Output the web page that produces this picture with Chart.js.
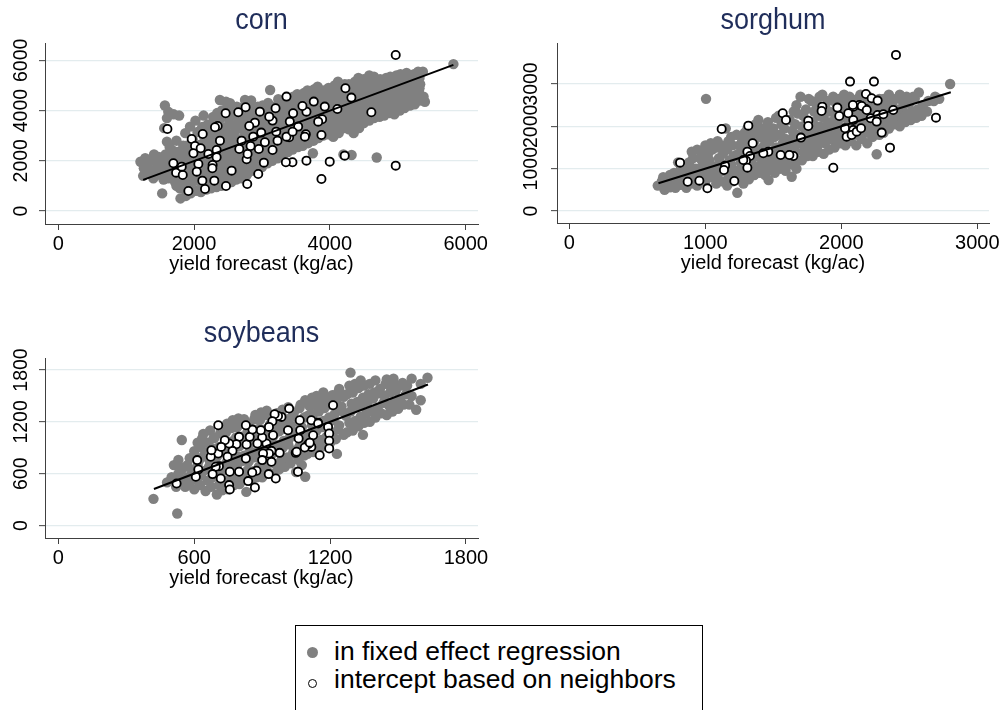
<!DOCTYPE html>
<html>
<head>
<meta charset="utf-8">
<title>yield forecast</title>
<script src="https://cdn.jsdelivr.net/npm/chart.js@4.4.0/dist/chart.umd.min.js"></script>
<style>
body{margin:0;background:#fff;width:1003px;height:710px;overflow:hidden;position:relative;font-family:"Liberation Sans",Arial,sans-serif;}
canvas{position:absolute;}
#legend{position:absolute;left:295px;top:625px;width:408px;height:100px;border:1px solid #000;box-sizing:border-box;}
.lg{position:absolute;left:38px;font-size:26.5px;line-height:30px;color:#000;white-space:nowrap;}
.dot{position:absolute;border-radius:50%;box-sizing:border-box;}
</style>
</head>
<body>
<canvas id="cornChart" width="500" height="290" style="left:0px;top:0px"></canvas>
<canvas id="sorghumChart" width="503" height="290" style="left:500px;top:0px"></canvas>
<canvas id="soyChart" width="500" height="280" style="left:0px;top:320px"></canvas>
<div id="legend">
	<span class="dot" style="left:11px;top:21px;width:11px;height:11px;background:#808080"></span>
	<div class="lg" style="top:10px">in fixed effect regression</div>
	<span class="dot" style="left:11.5px;top:52.5px;width:9.5px;height:9.5px;background:#fff;border:1.7px solid #000"></span>
	<div class="lg" style="top:38px">intercept based on neighbors</div>
</div>
<script>
//x축 제목
var xTitle = 'yield forecast (kg/ac)';

//corn ===============================================
var cornXTicks = [0, 2000, 4000, 6000];
var cornYTicks = [0, 2000, 4000, 6000];
var cornFit = [[1250, 1240], [5820, 5820]];
var cornFixed = [
[1210,1960],[1250,1400],[1260,1700],[1280,2100],[1320,1850],
[1400,1300],[1390,1600],[1420,2000],[1410,2250],[1460,1750],
[1530,700],[1550,1250],[1560,1550],[1540,1800],[1570,2050],[1580,2250],[1560,3300],[1570,4200],[1600,2760],[1620,3950],
[1650,1400],[1680,1750],[1660,2000],[1690,2400],[1700,3850],[1720,1150],
[1800,500],[1790,900],[1820,1200],[1810,1600],[1830,1900],[1800,2200],[1840,2600],[1780,3800],
[1950,700],[1940,1050],[1960,1400],[1970,1750],[1930,2050],[1950,2400],[1980,2850],[1940,3360],
[2100,750],[2120,1000],[2080,1300],[2110,1650],[2130,2000],[2090,2300],[2100,2650],[2140,3000],[2120,3350],[2140,3800],
[2250,900],[2270,1250],[2240,1550],[2260,1900],[2280,2200],[2230,2500],[2270,2850],[2250,3200],[2290,3550],[2280,3750],
[2400,1000],[2380,1350],[2420,1700],[2410,2000],[2390,2350],[2430,2650],[2400,3000],[2420,3300],[2380,3650],[2410,4000],[2380,4420],
[2550,1150],[2540,1500],[2570,1800],[2530,2150],[2560,2450],[2550,2800],[2580,3100],[2540,3450],[2560,3800],[2530,4150],[2530,4290],
[2700,1300],[2690,1650],[2720,2000],[2710,2300],[2680,2650],[2730,2950],[2700,3300],[2720,3600],[2690,3900],[2750,4200],[2750,4420],
[2850,1600],[2870,1900],[2840,2250],[2860,2550],[2880,2850],[2830,3150],[2850,3500],[2870,3750],[2860,4100],[2840,4400],
[3000,1750],[3020,2050],[2990,2400],[3010,2700],[3030,3000],[2980,3300],[3000,3600],[3020,3900],[3010,4200],
[3150,2000],[3130,2300],[3160,2600],[3170,2900],[3140,3200],[3150,3500],[3180,3800],[3150,4100],[3120,4820],
[3300,2250],[3310,2500],[3290,2800],[3320,3100],[3300,3400],[3280,3700],[3330,4000],[3310,4350],
[3450,2450],[3470,2700],[3440,3000],[3460,3300],[3430,3600],[3480,3900],[3450,4250],[3460,4550],
[3600,2600],[3620,2900],[3580,3200],[3610,3500],[3590,3800],[3630,4100],[3600,4400],[3620,4700],
[3750,2300],[3760,2800],[3740,3100],[3770,3400],[3730,3700],[3760,4000],[3780,4300],[3740,4600],[3770,4850],
[3900,3000],[3920,3300],[3880,3600],[3910,3900],[3890,4200],[3930,4500],[3900,4800],
[4050,2950],[4070,3200],[4030,3500],[4060,3800],[4040,4100],[4080,4400],[4050,4700],[4070,5000],
[4200,2250],[4220,3300],[4180,3600],[4210,3900],[4190,4200],[4230,4500],[4200,4800],[4220,5050],
[4350,3100],[4370,3450],[4330,3750],[4360,4050],[4340,4350],[4380,4650],[4350,4950],[4370,5150],[4320,2230],
[4500,3500],[4520,3800],[4480,4100],[4510,4400],[4490,4700],[4530,5000],[4500,5250],
[4650,3700],[4670,3950],[4630,4250],[4660,4550],[4640,4850],[4680,5150],[4650,5350],[4690,2130],
[4800,3800],[4820,4100],[4780,4400],[4810,4700],[4790,5000],[4830,5300],
[4950,3850],[4970,4200],[4930,4500],[4960,4800],[4940,5100],[4980,5400],
[5100,4100],[5120,4400],[5080,4700],[5110,5000],[5090,5300],[5130,5500],
[5250,4250],[5270,4600],[5230,4900],[5260,5200],[5240,5450],
[5400,4350],[5380,4550],[5320,4890],[5370,5550],
[5820,5850],
[1330,1550],[1330,2000],[1480,1450],[1480,1900],[1480,2150],
[1620,1300],[1620,1650],[1620,1900],[1620,2150],[1640,2550],[1600,3700],
[1740,1000],[1750,1500],[1740,1800],[1750,2100],[1760,2350],[1740,2800],
[1880,600],[1870,850],[1880,1100],[1890,1550],[1870,1900],[1880,2250],[1890,2600],[1870,3100],
[2030,800],[2020,1200],[2040,1550],[2030,1900],[2010,2200],[2040,2550],[2050,3150],[2020,3600],
[2180,850],[2170,1150],[2190,1450],[2180,1800],[2200,2100],[2170,2400],[2190,2750],[2180,3100],[2200,3450],
[2330,950],[2320,1300],[2340,1600],[2330,1950],[2320,2300],[2350,2600],[2330,2900],[2340,3250],[2320,3600],[2340,3900],
[2480,1100],[2470,1400],[2490,1750],[2470,2050],[2500,2350],[2480,2700],[2490,3050],[2470,3350],[2500,3700],[2480,4050],[2470,4350],
[2620,1250],[2630,1550],[2610,1900],[2640,2250],[2620,2550],[2630,2850],[2610,3200],[2640,3500],[2620,3850],[2630,4150],
[2780,1450],[2770,1800],[2790,2100],[2780,2400],[2770,2750],[2790,3050],[2780,3400],[2770,3700],[2790,4000],[2780,4300],
[2930,1700],[2920,2000],[2940,2300],[2930,2600],[2920,2950],[2940,3250],[2930,3550],[2920,3850],[2940,4150],
[3080,1900],[3070,2200],[3090,2500],[3080,2800],[3070,3100],[3090,3400],[3080,3700],[3070,4000],[3090,4300],
[3230,2100],[3220,2400],[3240,2700],[3230,3000],[3220,3300],[3240,3600],[3230,3900],[3220,4200],[3240,4450],
[3380,2350],[3370,2650],[3390,2950],[3380,3250],[3370,3550],[3390,3850],[3380,4150],[3370,4450],
[3530,2550],[3520,2800],[3540,3100],[3530,3400],[3520,3700],[3540,4000],[3530,4350],[3520,4650],
[3680,2700],[3670,3000],[3690,3300],[3680,3600],[3670,3900],[3690,4200],[3680,4500],[3670,4800],
[3830,2900],[3820,3200],[3840,3500],[3830,3800],[3820,4100],[3840,4400],[3830,4700],[3820,4950],
[3980,3050],[3970,3400],[3990,3700],[3980,4000],[3970,4300],[3990,4600],[3980,4900],
[4130,3100],[4120,3400],[4140,3700],[4130,4000],[4120,4300],[4140,4600],[4130,4900],[4120,5150],
[4280,3250],[4270,3550],[4290,3850],[4280,4150],[4270,4450],[4290,4750],[4280,5050],
[4430,3300],[4420,3650],[4440,3950],[4430,4250],[4420,4550],[4440,4850],[4430,5150],[4420,5300],
[4580,3600],[4570,3950],[4590,4250],[4580,4550],[4570,4850],[4590,5150],[4580,5400],
[4730,3750],[4720,4050],[4740,4350],[4730,4650],[4720,4950],[4740,5250],
[4880,3900],[4870,4150],[4890,4450],[4880,4750],[4870,5050],[4890,5350],
[5030,4000],[5020,4300],[5040,4600],[5030,4900],[5020,5200],[5040,5450],
[5180,4200],[5170,4500],[5190,4800],[5180,5100],[5170,5400],
[5320,4400],[5310,4750],[5330,5050],[5320,5300],[5300,5550]
];
var cornNeighbor = [
[4970,6215],[4970,1806],[4229,4887],[4317,4515],[4611,3931],[4219,2204],[3998,1965],[3876,1275],[3876,3028],[3886,3652],
[3925,4157],[4111,4064],[3763,4356],[3655,3957],[3596,4183],[3459,3891],[3361,4555],[3646,3054],[3655,2005],[3449,1939],
[3352,1939],[3400,2935],[3410,3559],[3200,4090],[3156,3599],[3107,3758],[2969,3957],[2896,3519],[2813,3386],[2759,4130],
[2651,3931],[2465,3891],[2347,3386],[2308,3333],[2381,2802],[2127,3068],[1965,2868],[2014,2590],[1990,2297],[2097,2497],
[2210,2271],[2332,2430],[2332,2138],[2273,1833],[2269,1700],[2063,1873],[2039,1567],[2122,1208],[2161,877],[1916,797],
[2298,1208],[2470,996],[2553,1607],[2783,1076],[2945,1474],[3028,1926],[2774,2058],[2788,2271],[2666,2470],[2832,2590],
[2954,2470],[3043,2736],[2871,2961],[2700,2802],[2989,3121],[3210,3160],[3156,2430],[3229,2802],[1695,1899],[1735,1527],
[1833,1434],[1818,1766],[1607,3267],[3533,3360],[3361,2961],[3828,3558],[3632,2960],[3451,3159]
];

//sorghum ============================================
var sorghumXTicks = [0, 1000, 2000, 3000];
var sorghumYTicks = [0, 1000, 2000, 3000];
var sorghumFit = [[655, 655], [2805, 2805]];
var sorghumFixed = [
[650,600],[700,500],[710,650],[690,800],[740,560],
[780,550],[790,700],[770,900],[800,1150],[820,620],
[860,550],[870,750],[850,950],[880,1150],[900,650],
[940,600],[950,800],[930,1000],[960,1250],[940,1450],
[1000,700],[1010,900],[990,1100],[1020,1350],[1000,1550],[1005,2650],
[1080,650],[1090,850],[1070,1050],[1100,1250],[1080,1500],[1090,1650],
[1160,600],[1170,800],[1150,1000],[1180,1200],[1160,1450],[1170,1650],[1150,1950],
[1235,430],[1250,750],[1230,950],[1260,1150],[1240,1350],[1250,1550],[1230,1800],
[1320,750],[1330,950],[1310,1150],[1340,1350],[1320,1550],[1330,1750],[1310,1950],
[1400,900],[1410,1100],[1390,1300],[1420,1500],[1400,1750],[1410,1950],[1390,2150],
[1465,730],[1480,1000],[1460,1200],[1490,1400],[1470,1650],[1480,1850],[1460,2100],
[1550,1000],[1560,1200],[1540,1400],[1570,1600],[1550,1800],[1560,2050],[1540,2250],
[1635,810],[1640,1100],[1620,1300],[1650,1500],[1630,1700],[1640,1900],[1620,2150],[1650,2350],
[1710,1200],[1720,1400],[1700,1600],[1730,1800],[1710,2000],[1720,2250],[1700,2700],
[1790,1300],[1800,1500],[1780,1700],[1810,1900],[1790,2100],[1800,2350],[1780,2600],
[1870,1350],[1880,1600],[1860,1800],[1890,2000],[1870,2200],[1880,2450],[1860,2750],
[1950,1500],[1960,1700],[1940,1900],[1970,2100],[1950,2300],[1960,2550],[1940,2700],
[2030,1550],[2040,1750],[2020,1950],[2050,2150],[2030,2350],[2040,2550],[2020,2750],
[2110,1550],[2120,1800],[2100,2000],[2130,2200],[2110,2400],[2120,2650],
[2190,1600],[2200,1850],[2180,2050],[2210,2250],[2190,2450],[2200,2700],
[2260,1340],[2280,1800],[2260,2000],[2290,2200],[2270,2400],[2280,2650],
[2350,1950],[2360,2150],[2340,2350],[2370,2550],[2350,2750],
[2430,2000],[2440,2200],[2420,2400],[2450,2600],[2430,2750],
[2510,2150],[2520,2350],[2500,2550],[2530,2700],
[2570,2800],[2590,2250],[2600,2500],
[2680,2600],[2690,2700],
[2800,3000],
[680,700],[730,750],[760,650],[740,850],[820,800],[820,1000],[830,680],[900,850],[890,1050],[910,1250],[900,1400],
[970,700],[970,900],[980,1150],[970,1400],[1040,800],[1050,1000],[1030,1200],[1050,1450],[1040,1600],
[1120,700],[1130,950],[1110,1150],[1130,1350],[1120,1550],[1200,700],[1200,900],[1190,1100],[1210,1300],[1200,1550],[1190,1750],
[1280,650],[1280,850],[1270,1050],[1290,1250],[1280,1450],[1270,1650],[1290,1850],
[1360,850],[1360,1050],[1350,1250],[1370,1450],[1360,1650],[1350,1850],[1370,2050],
[1440,850],[1440,1050],[1430,1250],[1450,1450],[1440,1650],[1430,1850],[1450,2000],
[1510,900],[1520,1100],[1500,1300],[1520,1500],[1510,1750],[1500,1950],[1520,2200],
[1590,950],[1600,1100],[1580,1300],[1600,1500],[1590,1700],[1580,1950],[1600,2150],
[1670,1000],[1680,1200],[1660,1400],[1680,1600],[1670,1800],[1660,2050],[1680,2300],[1670,2500],
[1750,1300],[1760,1500],[1740,1700],[1760,1900],[1750,2100],[1740,2400],[1760,2650],
[1830,1400],[1840,1600],[1820,1800],[1840,2000],[1830,2250],[1820,2500],[1840,2700],
[1910,1450],[1920,1700],[1900,1900],[1920,2100],[1910,2350],[1900,2600],
[1990,1600],[2000,1800],[1980,2000],[2000,2200],[1990,2450],[1980,2650],
[2070,1650],[2080,1900],[2060,2100],[2080,2300],[2070,2500],[2060,2700],
[2150,1700],[2160,1900],[2140,2100],[2160,2300],[2150,2550],[2140,2750],
[2230,1750],[2240,1950],[2220,2150],[2240,2350],[2230,2550],
[2310,1850],[2320,2050],[2300,2250],[2320,2450],[2310,2650],
[2390,2050],[2400,2250],[2380,2450],[2400,2650],
[2470,2100],[2480,2300],[2460,2500],[2480,2700],
[2550,2200],[2560,2400],[2540,2650],
[2630,2350],[2640,2600],[2720,2650]
];
var sorghumNeighbor = [
[2402,3688],[2064,3057],[2240,3057],[2181,2766],[2223,2663],[2267,2608],[2181,2411],[2132,2506],[2088,2466],[1971,2443],
[1860,2466],[1855,2364],[1985,2246],[2051,2309],[2088,2151],[2027,1954],[2088,1915],[2039,1757],[2076,1797],[2113,1875],
[2145,1954],[2216,2191],[2267,2269],[2309,2285],[2382,2388],[2260,2112],[2297,1852],[2358,1497],[2696,2206],[1941,1024],
[1757,2135],[1757,2009],[1703,1734],[1569,2309],[1593,2151],[1647,1300],[1618,1324],[1554,1324],[1463,1403],[1426,1363],
[1348,1600],[1316,2017],[1309,1403],[1328,1300],[1299,1190],[1309,1024],[1213,709],[1145,1072],[1120,1938],[1015,536],
[956,717],[870,693],[814,1143],[1137,969],[1279,1206],[2150,2482],[2085,2506],[2187,2388]
];

//soybeans ===========================================
var soyXTicks = [0, 600, 1200, 1800];
var soyYTicks = [0, 600, 1200, 1800];
var soyFit = [[422, 424], [1632, 1633]];
var soyFixed = [
[420,310],[480,500],[525,140],
[520,450],[530,600],[510,700],[545,990],
[560,450],[570,560],[550,670],[580,780],
[600,420],[610,530],[590,640],[620,750],[600,860],[615,960],
[650,400],[660,520],[640,630],[670,740],[650,850],[660,960],[640,1060],
[700,360],[710,470],[690,580],[720,690],[700,800],[710,910],[690,1020],[720,1130],
[750,420],[760,530],[740,640],[770,750],[750,860],[760,970],[740,1080],[770,1220],
[800,480],[810,590],[790,700],[820,810],[800,920],[810,1030],[790,1140],[820,1230],
[830,390],[850,520],[860,630],[840,740],[870,850],[850,960],[860,1070],[840,1180],[870,1280],
[900,560],[910,670],[890,780],[920,890],[900,1000],[910,1110],[890,1220],[920,1330],
[950,600],[960,710],[940,820],[970,930],[950,1040],[960,1150],[940,1260],
[1000,680],[1010,790],[990,900],[1020,1010],[1000,1120],[1010,1230],[990,1340],
[1050,620],[1060,760],[1040,870],[1070,980],[1050,1090],[1060,1200],[1040,1310],[1070,1400],
[1090,565],[1100,830],[1110,940],[1090,1050],[1120,1160],[1100,1270],[1110,1380],[1090,1450],
[1150,880],[1160,990],[1140,1100],[1170,1210],[1150,1320],[1160,1430],[1140,1500],
[1200,960],[1210,1070],[1190,1180],[1220,1290],[1200,1400],[1210,1510],
[1230,830],[1260,1050],[1240,1160],[1270,1270],[1250,1380],[1260,1490],[1240,1580],
[1300,1100],[1310,1210],[1290,1320],[1320,1430],[1300,1540],[1310,1640],[1290,1770],
[1345,1050],[1350,1190],[1360,1300],[1340,1410],[1370,1520],[1350,1620],
[1400,1250],[1410,1360],[1390,1470],[1420,1580],[1400,1680],
[1450,1280],[1460,1390],[1440,1500],[1470,1600],[1450,1690],
[1500,1350],[1510,1450],[1490,1560],[1520,1650],
[1550,1400],[1560,1500],[1540,1620],[1560,1700],
[1580,1340],
[1630,1710],
[500,560],[540,520],[545,650],[530,760],[580,500],[590,590],[570,700],[600,810],
[625,470],[630,580],[615,690],[640,800],[625,910],[635,1010],
[675,450],[680,560],[665,680],[690,790],[675,900],[685,1010],[670,1100],
[725,410],[735,520],[715,630],[745,740],[725,850],[735,960],[715,1070],[745,1180],
[775,470],[785,580],[765,690],[795,800],[775,910],[785,1020],[765,1130],[795,1240],
[825,530],[835,640],[815,750],[845,860],[825,970],[835,1080],[815,1190],
[875,560],[885,680],[865,790],[895,900],[875,1010],[885,1120],[865,1230],[895,1310],
[925,620],[935,730],[915,840],[945,950],[925,1060],[935,1170],[915,1280],
[975,650],[985,760],[965,870],[995,980],[975,1090],[985,1200],[965,1300],
[1025,720],[1035,830],[1015,940],[1045,1050],[1025,1160],[1035,1270],[1015,1370],
[1075,700],[1085,810],[1065,920],[1095,1030],[1075,1140],[1085,1250],[1065,1360],[1095,1430],
[1125,850],[1135,960],[1115,1070],[1145,1180],[1125,1290],[1135,1400],[1120,1480],
[1175,920],[1185,1030],[1165,1140],[1195,1250],[1175,1360],[1185,1470],[1170,1540],
[1225,1000],[1235,1110],[1215,1220],[1245,1330],[1225,1440],[1235,1540],
[1275,1080],[1285,1190],[1265,1300],[1295,1410],[1275,1520],[1285,1620],
[1325,1150],[1335,1260],[1315,1370],[1345,1480],[1325,1590],[1335,1680],
[1375,1200],[1385,1320],[1365,1430],[1395,1540],[1375,1640],
[1425,1300],[1435,1420],[1415,1530],[1445,1640],
[1475,1320],[1485,1430],[1465,1540],[1495,1620],[1480,1700],
[1525,1400],[1535,1520],[1515,1620],[1600,1640],[1600,1450]
];
var soyNeighbor = [
[1213,1392],[1191,1142],[1196,1065],[1196,981],[1196,892],[1154,815],[1125,1046],[1117,911],[1103,942],[1088,904],
[1146,1192],[1117,1219],[1066,1219],[1068,1104],[1061,1008],[1048,842],[1058,623],[1019,1354],[1014,1104],[985,1258],
[970,1269],[955,1288],[945,1208],[930,1142],[948,1046],[977,842],[941,865],[919,950],[930,835],[904,835],
[900,1019],[894,1104],[960,546],[929,596],[941,738],[900,758],[875,635],[868,442],[838,515],[856,615],
[828,777],[831,938],[845,1027],[857,1111],[828,1162],[798,1027],[786,942],[769,865],[747,796],[754,950],
[735,988],[757,623],[754,469],[757,419],[717,546],[709,688],[706,835],[695,681],[681,596],[673,796],
[676,873],[706,1162],[719,911],[613,758],[618,650],[607,565],[522,488],[879,950],[798,623],[1052,855],
[1110,960],[1147,1182]
];

function toPoints(list){
	return list.map(function(p){ return {x: p[0], y: p[1]}; });
}

//패널 글자 (제목, 눈금, 축제목)
function panelText(p){
	return {
		id: 'panelText',
		afterDraw: function(chart){
			var ctx = chart.ctx, ca = chart.chartArea;
			var xs = chart.scales.x, ys = chart.scales.y;
			var cx = (ca.left + ca.right) / 2;
			ctx.save();
			ctx.fillStyle = '#000';
			ctx.textAlign = 'center';
			ctx.textBaseline = 'middle';
			ctx.font = '20px "Liberation Sans", Arial, sans-serif';
			p.xTicks.forEach(function(v){
				ctx.fillText(String(v), xs.getPixelForValue(v), ca.bottom + 20.7);
			});
			ctx.fillText(xTitle, cx, ca.bottom + 40.5);
			ctx.font = '19.5px "Liberation Sans", Arial, sans-serif';
			p.yTicks.forEach(function(v){
				ctx.save();
				ctx.translate(p.yLabelX, ys.getPixelForValue(v));
				ctx.rotate(-Math.PI / 2);
				ctx.fillText(String(v), 0, 0);
				ctx.restore();
			});
			ctx.fillStyle = '#1f2d5a';
			ctx.font = '27px "Liberation Sans", Arial, sans-serif';
			ctx.translate(cx, p.titleY);
			ctx.scale(1, 1.1);
			ctx.fillText(p.title, 0, 0);
			ctx.restore();
		}
	};
}

function drawPanel(id, p){
	var axisColor = '#404040';
	new Chart(document.getElementById(id), {
		type: 'scatter',
		data: {
			datasets: [{
				type: 'line',
				data: toPoints(p.fit),
				showLine: true,
				borderColor: '#000',
				borderWidth: 2,
				pointRadius: 0,
				order: 0
			}, {
				data: toPoints(p.neighbor),
				pointRadius: 4.1,
				pointBackgroundColor: '#fff',
				pointBorderColor: '#000',
				pointBorderWidth: 1.8,
				order: 1
			}, {
				data: toPoints(p.fixed),
				pointRadius: 5.2,
				pointBackgroundColor: '#808080',
				pointBorderWidth: 0,
				order: 2
			}]
		},
		options: {
			responsive: false,
			animation: false,
			events: [],
			layout: {autoPadding: false, padding: {left: 0, top: p.padTop, right: p.padRight, bottom: 0}},
			plugins: {legend: {display: false}, tooltip: {enabled: false}},
			scales: {
				x: {
					type: 'linear', min: p.xMin, max: p.xMax,
					afterBuildTicks: function(s){ s.ticks = p.xTicks.map(function(v){ return {value: v}; }); },
					afterFit: function(s){ s.height = p.xHeight; },
					ticks: {display: false},
					grid: {drawOnChartArea: false, drawTicks: true, tickLength: 6, tickColor: axisColor, tickWidth: 1},
					border: {display: true, color: axisColor, width: 1}
				},
				y: {
					type: 'linear', min: p.yMin, max: p.yMax,
					afterBuildTicks: function(s){ s.ticks = p.yTicks.map(function(v){ return {value: v}; }); },
					afterFit: function(s){ s.width = p.yWidth; },
					ticks: {display: false},
					grid: {color: '#e3ecee', lineWidth: 1.3, drawTicks: true, tickLength: 6, tickColor: axisColor, tickWidth: 1},
					border: {display: true, color: axisColor, width: 1}
				}
			}
		},
		plugins: [panelText(p)]
	});
}

drawPanel('cornChart', {
	title: 'corn', titleY: 20.7, yLabelX: 21.7,
	xTicks: cornXTicks, yTicks: cornYTicks,
	fixed: cornFixed, neighbor: cornNeighbor, fit: cornFit,
	xMin: -196, xMax: 6182, yMin: -518, yMax: 6690,
	padTop: 43, padRight: 22, yWidth: 45, xHeight: 66
});
drawPanel('sorghumChart', {
	title: 'sorghum', titleY: 20.7, yLabelX: 31.7,
	xTicks: sorghumXTicks, yTicks: sorghumYTicks,
	fixed: sorghumFixed, neighbor: sorghumNeighbor, fit: sorghumFit,
	xMin: -91, xMax: 3086, yMin: -283, yMax: 3969,
	padTop: 43, padRight: 14, yWidth: 57, xHeight: 67
});
drawPanel('soyChart', {
	title: 'soybeans', titleY: 14.1, yLabelX: 21.7,
	xTicks: soyXTicks, yTicks: soyYTicks,
	fixed: soyFixed, neighbor: soyNeighbor, fit: soyFit,
	xMin: -59, xMax: 1853, yMin: -143, yMax: 1939,
	padTop: 38, padRight: 22, yWidth: 45, xHeight: 62
});
</script>
</body>
</html>
